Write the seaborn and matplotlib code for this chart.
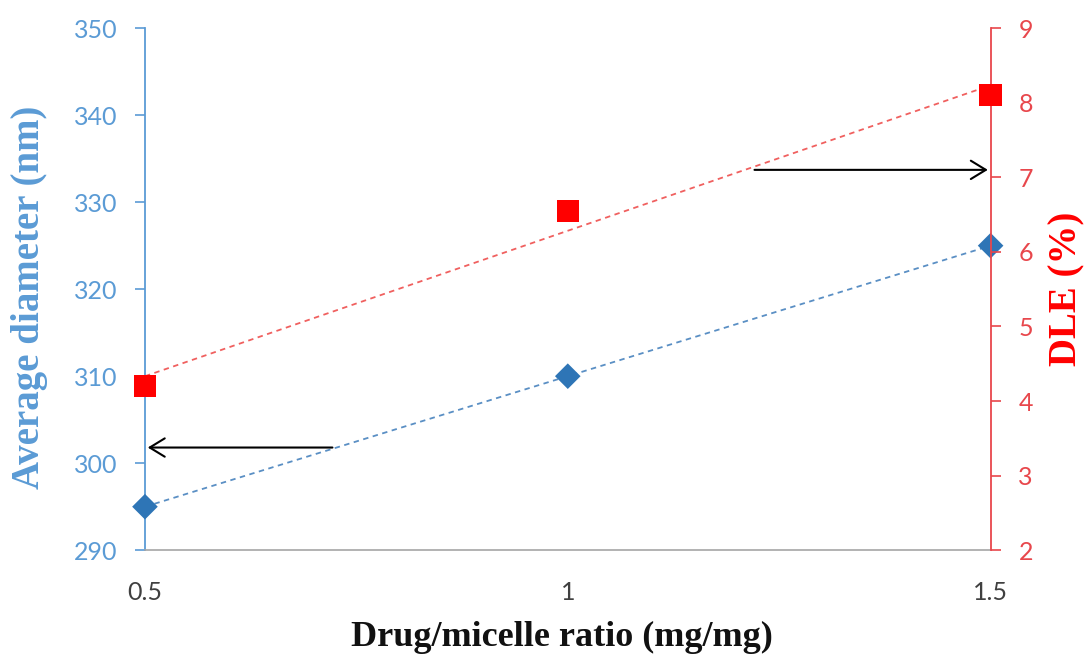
import matplotlib
matplotlib.use("Agg")
import matplotlib.pyplot as plt
import seaborn as sns
import pandas as pd

ratio = [0.5, 1.0, 1.5]
diameter = [295.0, 310.0, 325.0]
dle = [4.2, 6.55, 8.1]
left_ticks = [290, 300, 310, 320, 330, 340, 350]
right_ticks = [2, 3, 4, 5, 6, 7, 8, 9]
x_ticks = [0.5, 1.0, 1.5]
x_tick_labels = ["0.5", "1", "1.5"]

sns.set_theme(style="white")
plt.rcParams['font.family'] = ['Lato', 'DejaVu Sans']

df = pd.DataFrame({"ratio": ratio, "diameter": diameter, "dle": dle})

BLUE = "#2E75B6"
BLUE_LIGHT = "#5B9BD5"
RED = "#FF0000"
RED_T = "#E8474C"

fig = plt.figure(figsize=(10.85, 6.55), dpi=100)
ax = fig.add_axes([0.1336, 0.160, 0.7794, 0.797])
ax2 = ax.twinx()

sns.regplot(data=df, x="ratio", y="diameter", ax=ax, scatter=False, ci=None,
            line_kws=dict(color="#5A8FC4", lw=1.3, ls=(0, (3, 2.5))))
sns.scatterplot(data=df, x="ratio", y="diameter", ax=ax, marker="D", s=170,
                color=BLUE, edgecolor="none", zorder=5, clip_on=False)

sns.regplot(data=df, x="ratio", y="dle", ax=ax2, scatter=False, ci=None,
            line_kws=dict(color="#F0605F", lw=1.3, ls=(0, (3, 2.5))))
sns.scatterplot(data=df, x="ratio", y="dle", ax=ax2, marker="s", s=260,
                color=RED, edgecolor="none", zorder=5, clip_on=False)

ax.set_xlim(0.5, 1.5)
ax.set_ylim(290, 350)
ax2.set_ylim(2, 9)
ax.set_xticks(x_ticks)
ax.set_xticklabels(x_tick_labels)
ax.set_yticks(left_ticks)
ax2.set_yticks(right_ticks)

for a in (ax, ax2):
    a.spines['top'].set_visible(False)
ax.spines['right'].set_visible(False)
ax2.spines['left'].set_visible(False)
ax2.spines['bottom'].set_visible(False)
ax.spines['left'].set_color(BLUE_LIGHT)
ax.spines['left'].set_linewidth(1.3)
ax2.spines['right'].set_color(RED_T)
ax2.spines['right'].set_linewidth(1.3)
ax.spines['bottom'].set_color("#A6A6A6")
ax.spines['bottom'].set_linewidth(1.2)

ax.tick_params(axis='y', colors=BLUE_LIGHT, labelsize=18, direction='out',
               length=7, width=1.2, left=True, pad=13)
ax2.tick_params(axis='y', colors=RED_T, labelsize=18, direction='out',
                length=7, width=1.2, right=True, pad=13)
ax.tick_params(axis='x', colors="#404040", labelsize=18, length=0, pad=22)

ax.set_xlabel("Drug/micelle ratio (mg/mg)", family="Liberation Serif",
              fontweight="bold", fontsize=26, color="#111111")
ax.set_ylabel("Average diameter (nm)", family="Liberation Serif",
              fontweight="bold", fontsize=28, color=BLUE_LIGHT)
ax2.set_ylabel("DLE (%)", family="Liberation Serif", fontweight="bold",
               fontsize=28, color=RED)
ax.xaxis.set_label_coords(0.493, -0.136)
ax.yaxis.set_label_coords(-0.115, 0.485)
ax2.yaxis.set_label_coords(1.0686, 0.5)

ax.annotate("", xy=(0.5, 301.8), xytext=(0.725, 301.8),
            arrowprops=dict(arrowstyle="->,head_length=0.9,head_width=0.55",
                            color="black", lw=1.5), annotation_clip=False)
ax2.annotate("", xy=(1.5, 7.1), xytext=(1.2175, 7.1),
             arrowprops=dict(arrowstyle="->,head_length=0.9,head_width=0.55",
                             color="black", lw=1.5), annotation_clip=False)

ax.grid(False)
ax2.grid(False)
fig.savefig("out.png", dpi=100)
